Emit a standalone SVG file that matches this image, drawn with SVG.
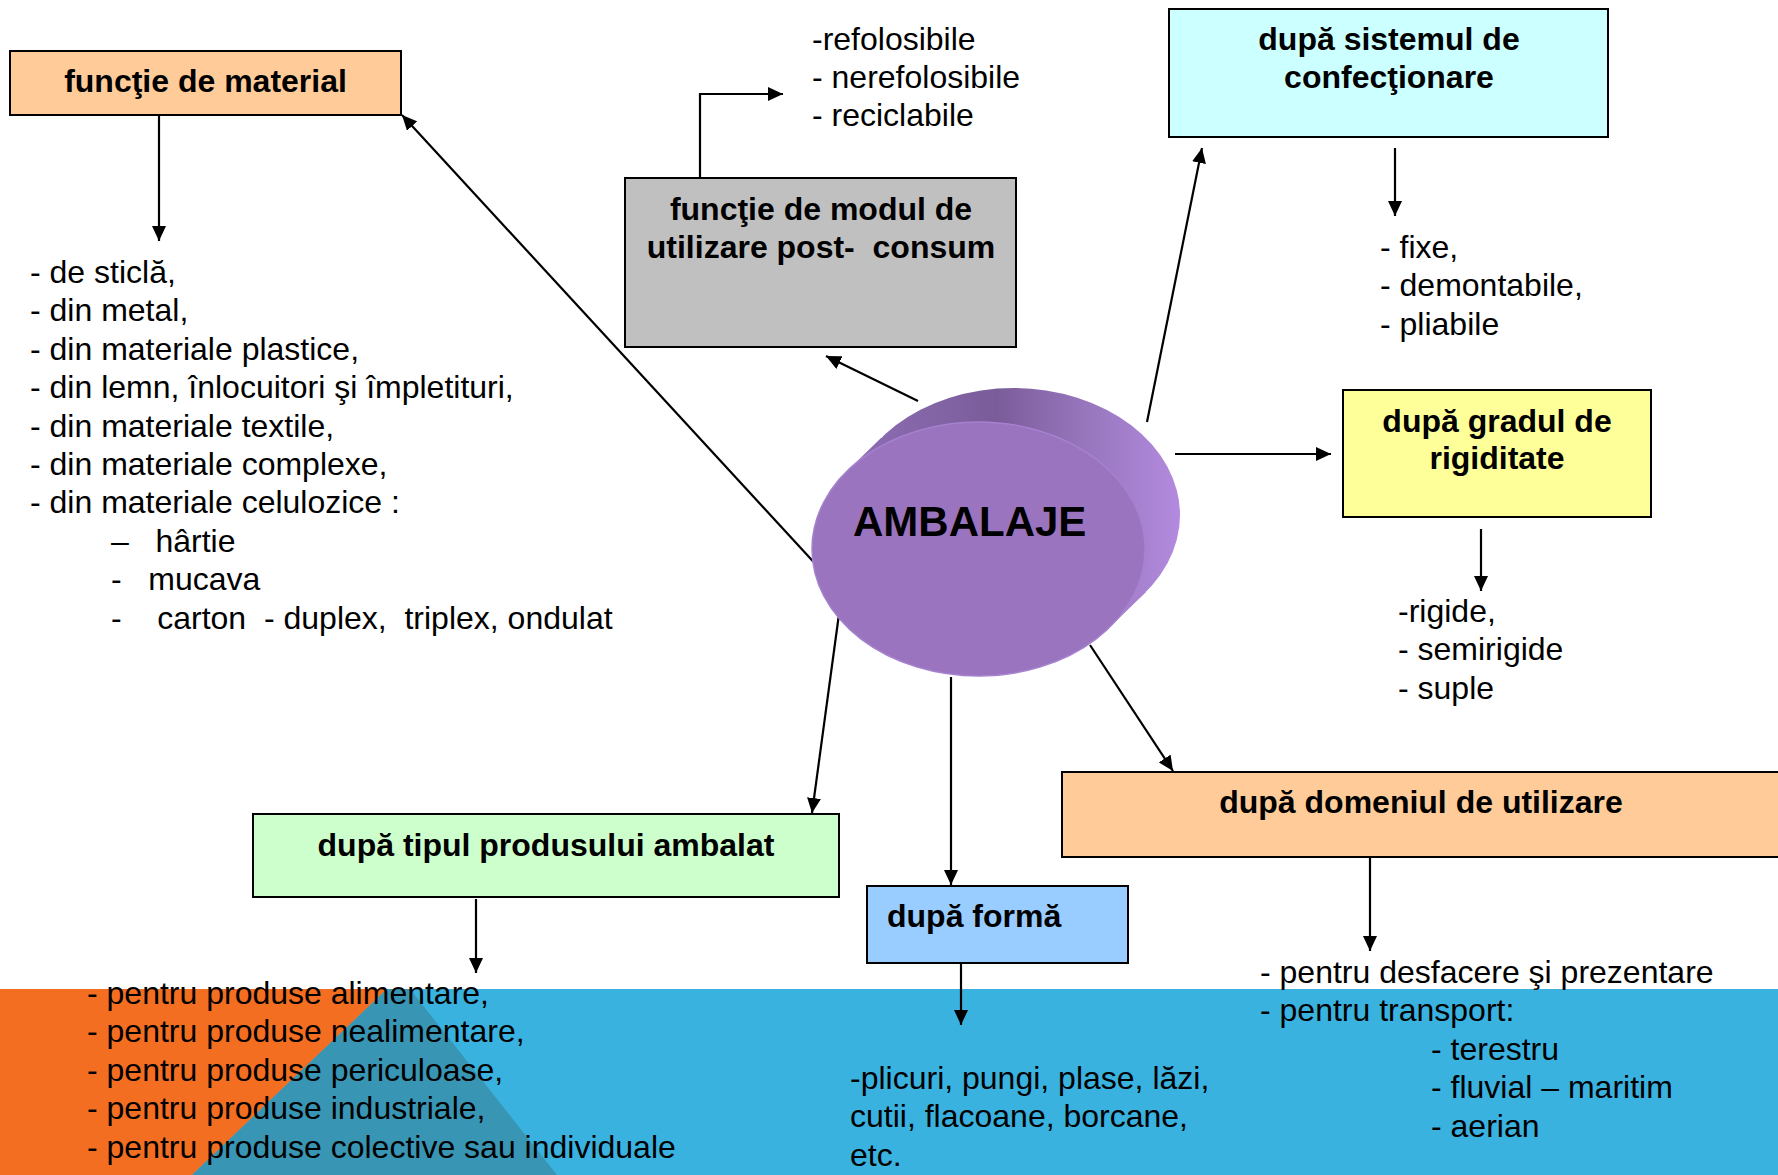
<svg xmlns="http://www.w3.org/2000/svg" width="1778" height="1175" viewBox="0 0 1778 1175">
  <defs>
    <style>
      .box { stroke: #000; stroke-width: 2; }
      .hd { font-family: "Liberation Sans", Arial, sans-serif; font-weight: bold; font-size: 32px; fill: #000; white-space: pre; }
      .tx { font-family: "Liberation Sans", Arial, sans-serif; font-size: 32px; fill: #000; white-space: pre; }
      .mid { text-anchor: middle; }
      .con { stroke: #000; stroke-width: 2.2; fill: none; marker-end: url(#arrow); }
    </style>
    <marker id="arrow" markerUnits="userSpaceOnUse" markerWidth="16" markerHeight="14" refX="15" refY="7" orient="auto">
      <path d="M0,0 L15,7 L0,14 z" fill="#000"/>
    </marker>
    <linearGradient id="side" gradientUnits="userSpaceOnUse" x1="812" y1="500" x2="1180" y2="500">
      <stop offset="0" stop-color="#9572BC"/>
      <stop offset="0.3" stop-color="#8465A7"/>
      <stop offset="0.5" stop-color="#7B5C9A"/>
      <stop offset="0.75" stop-color="#9877BE"/>
      <stop offset="1" stop-color="#B38ADF"/>
    </linearGradient>
  </defs>

  <!-- bottom band -->
  <g id="band">
    <rect x="0" y="989" width="1778" height="186" fill="#3AB2E0"/>
    <polygon points="0,989 387,989 192,1175 0,1175" fill="#F36E21"/>
    <polygon points="387,989 410,989 557,1175 192,1175" fill="#3995B4"/>
  </g>

  <!-- connectors -->
  <g id="connectors">
    <line class="con" x1="159" y1="115" x2="159" y2="241"/>
    <line class="con" x1="821" y1="570" x2="402" y2="115"/>
    <polyline class="con" points="700,178 700,94 783,94"/>
    <line class="con" x1="918" y1="401" x2="826" y2="356"/>
    <line class="con" x1="1147" y1="422" x2="1202" y2="148"/>
    <line class="con" x1="1395" y1="148" x2="1395" y2="216"/>
    <line class="con" x1="1175" y1="454" x2="1331" y2="454"/>
    <line class="con" x1="1481" y1="529" x2="1481" y2="591"/>
    <line class="con" x1="839" y1="614" x2="812" y2="813"/>
    <line class="con" x1="476" y1="899" x2="476" y2="973"/>
    <line class="con" x1="951" y1="677" x2="951" y2="885"/>
    <line class="con" x1="961" y1="963" x2="961" y2="1025"/>
    <line class="con" x1="1090" y1="645" x2="1173" y2="771"/>
    <line class="con" x1="1370" y1="857" x2="1370" y2="951"/>
  </g>

  <!-- central disk -->
  <g id="ambalaje">
    <ellipse cx="1013.5" cy="515" rx="166.5" ry="127" fill="url(#side)"/>
    <polygon points="846,472 881,438 1146,592 1111,626" fill="url(#side)"/>
    <ellipse cx="978.5" cy="549" rx="166.5" ry="127" fill="#9B74C0" stroke="#A581CE" stroke-width="1.5"/>
    <text class="hd" x="853" y="536" style="font-size:42px">AMBALAJE</text>
  </g>

  <g id="material">
    <rect class="box" x="10" y="51" width="391" height="64" fill="#FFCC99"/>
    <text class="hd mid" x="205.5" y="92">funcţie de material</text>
  </g>
  <g id="material-list">
    <text class="tx" x="30" y="283">- de sticlă,</text>
    <text class="tx" x="30" y="321.4">- din metal,</text>
    <text class="tx" x="30" y="359.8">- din materiale plastice,</text>
    <text class="tx" x="30" y="398.2">- din lemn, înlocuitori şi împletituri,</text>
    <text class="tx" x="30" y="436.6">- din materiale textile,</text>
    <text class="tx" x="30" y="475">- din materiale complexe,</text>
    <text class="tx" x="30" y="513.4">- din materiale celulozice :</text>
    <text class="tx" x="111" y="551.8">–   hârtie</text>
    <text class="tx" x="111" y="590.2">-   mucava</text>
    <text class="tx" x="111" y="628.6">-    carton  - duplex,  triplex, ondulat</text>
  </g>

  <g id="post-consum">
    <rect class="box" x="625" y="178" width="391" height="169" fill="#C0C0C0"/>
    <text class="hd mid" x="821" y="220">funcţie de modul de</text>
    <text class="hd mid" x="821" y="258">utilizare post-  consum</text>
  </g>
  <g id="post-consum-list">
    <text class="tx" x="812" y="50">-refolosibile</text>
    <text class="tx" x="812" y="88">- nerefolosibile</text>
    <text class="tx" x="812" y="126">- reciclabile</text>
  </g>

  <g id="confectionare">
    <rect class="box" x="1169" y="9" width="439" height="128" fill="#CCFFFF"/>
    <text class="hd mid" x="1389" y="50">după sistemul de</text>
    <text class="hd mid" x="1389" y="88">confecţionare</text>
  </g>
  <g id="confectionare-list">
    <text class="tx" x="1380" y="257.5">- fixe,</text>
    <text class="tx" x="1380" y="296">- demontabile,</text>
    <text class="tx" x="1380" y="334.5">- pliabile</text>
  </g>

  <g id="rigiditate">
    <rect class="box" x="1343" y="390" width="308" height="127" fill="#FFFF99"/>
    <text class="hd mid" x="1497" y="431.5">după gradul de</text>
    <text class="hd mid" x="1497" y="469">rigiditate</text>
  </g>
  <g id="rigiditate-list">
    <text class="tx" x="1398" y="621.5">-rigide,</text>
    <text class="tx" x="1398" y="660">- semirigide</text>
    <text class="tx" x="1398" y="698.5">- suple</text>
  </g>

  <g id="tip-produs">
    <rect class="box" x="253" y="814" width="586" height="83" fill="#CCFFCC"/>
    <text class="hd mid" x="546" y="856">după tipul produsului ambalat</text>
  </g>
  <g id="tip-produs-list">
    <text class="tx" x="87" y="1004">- pentru produse alimentare,</text>
    <text class="tx" x="87" y="1042.4">- pentru produse nealimentare,</text>
    <text class="tx" x="87" y="1080.8">- pentru produse periculoase,</text>
    <text class="tx" x="87" y="1119.2">- pentru produse industriale,</text>
    <text class="tx" x="87" y="1157.6">- pentru produse colective sau individuale</text>
  </g>

  <g id="forma">
    <rect class="box" x="867" y="886" width="261" height="77" fill="#99CCFF"/>
    <text class="hd" x="887" y="927">după formă</text>
  </g>
  <g id="forma-list">
    <text class="tx" x="850" y="1088.5">-plicuri, pungi, plase, lăzi,</text>
    <text class="tx" x="850" y="1127">cutii, flacoane, borcane,</text>
    <text class="tx" x="850" y="1165.5">etc.</text>
  </g>

  <g id="domeniu">
    <rect class="box" x="1062" y="772" width="720" height="85" fill="#FFCC99"/>
    <text class="hd mid" x="1421" y="813">după domeniul de utilizare</text>
  </g>
  <g id="domeniu-list">
    <text class="tx" x="1260" y="982.5">- pentru desfacere şi prezentare</text>
    <text class="tx" x="1260" y="1021">- pentru transport:</text>
    <text class="tx" x="1431" y="1059.5">- terestru</text>
    <text class="tx" x="1431" y="1098">- fluvial – maritim</text>
    <text class="tx" x="1431" y="1136.5">- aerian</text>
  </g>
</svg>
